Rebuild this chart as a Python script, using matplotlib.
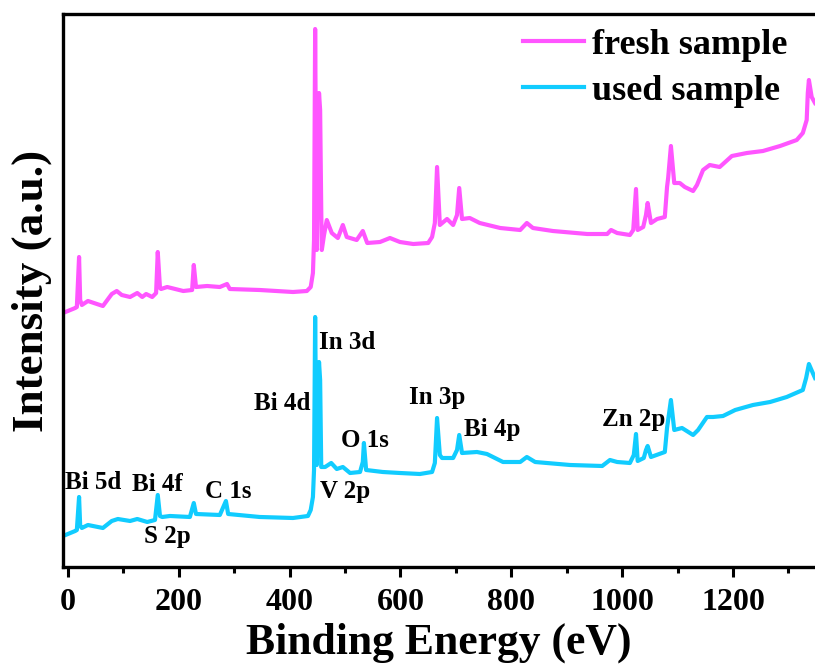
import matplotlib
matplotlib.use("Agg")
import matplotlib.pyplot as plt
from matplotlib.ticker import MultipleLocator

plt.rcParams['font.family'] = 'Liberation Serif'
plt.rcParams['font.weight'] = 'bold'

# XPS survey spectra (binding energy in eV, intensity in a.u.)
fresh_be = [-9, 13, 16, 20, 22, 25, 36, 63, 79, 88, 97, 112, 125, 134, 141, 152, 159, 162, 166, 168,
            179, 208, 224, 227, 231, 251, 274, 287, 292, 346, 406, 431, 438, 442, 444, 446, 448, 449,
            451, 453, 455, 457, 458, 462, 467, 476, 487, 496, 503, 521, 532, 540, 563, 581, 599, 623,
            650, 657, 662, 666, 671, 684, 695, 702, 706, 711, 725, 743, 780, 816, 828, 839, 875, 937,
            973, 980, 991, 1014, 1020, 1025, 1028, 1038, 1043, 1046, 1052, 1063, 1077, 1081, 1083,
            1088, 1094, 1104, 1113, 1128, 1135, 1146, 1158, 1176, 1198, 1225, 1254, 1285, 1315, 1326,
            1333, 1335, 1337, 1342, 1348]
fresh_int = [254, 259, 260, 310, 267, 262, 266, 261, 273, 276, 272, 270, 274, 270, 273, 270, 274, 315, 279, 278,
             280, 276, 277, 302, 280, 281, 280, 283, 278, 277, 275, 276, 280, 294, 327, 538, 367, 317,
             407, 474, 457, 357, 317, 332, 347, 334, 329, 342, 330, 327, 336, 324, 325, 329, 325, 323,
             324, 330, 344, 400, 342, 348, 342, 352, 379, 348, 349, 344, 339, 337, 344, 339, 336, 333,
             333, 337, 334, 332, 337, 378, 337, 340, 352, 364, 344, 348, 350, 380, 389,
             421, 384, 384, 380, 376, 382, 397, 402, 400, 411, 414, 416, 421, 427, 434,
             447, 474, 487, 470, 464]

used_be = [-9, 13, 16, 20, 22, 25, 36, 63, 79, 90, 112, 125, 143, 157, 162, 166, 170, 184, 220, 227,
           231, 274, 285, 289, 346, 406, 433, 438, 442, 444, 446, 448, 449, 451, 453, 455, 457, 464,
           475, 485, 496, 509, 527, 532, 534, 538, 568, 599, 635, 657, 662, 666, 671, 675, 695, 702,
           706, 711, 738, 756, 785, 816, 828, 843, 906, 964, 978, 991, 1014, 1021, 1025, 1028, 1039,
           1043, 1046, 1052, 1077, 1081, 1088, 1094, 1108, 1128, 1137, 1153, 1164, 1182, 1204, 1236,
           1267, 1297, 1326, 1332, 1337, 1344, 1348]
used_int = [31, 36, 37, 70, 41, 39, 42, 39, 46, 48, 46, 48, 45, 47, 72, 51, 50, 51, 50, 64,
            53, 52, 66, 53, 50, 49, 51, 57, 70, 97, 250, 127, 102, 167, 205, 187, 100, 100,
            104, 98, 100, 94, 95, 105, 124, 97, 95, 94, 93, 95, 104, 149, 112, 109, 109, 117,
            132, 114, 115, 113, 105, 105, 110, 105, 102, 101, 107, 105, 104, 112, 133, 106, 109,
            117, 121, 110, 115, 139, 167, 137, 139, 132, 137, 150, 150, 151, 157, 162,
            165, 170, 177, 189, 203, 194, 189]

peak_labels = ["In 3d", "Bi 4d", "O 1s", "V 2p", "In 3p", "Bi 4p", "Zn 2p",
               "Bi 5d", "Bi 4f", "C 1s", "S 2p"]

fig = plt.figure(figsize=(8.15, 6.64), dpi=100)
ax = fig.add_axes([0.0773, 0.1461, 0.9227, 0.8328])

ax.plot(fresh_be, fresh_int, color='#FF55FF', lw=3, label='fresh sample')
ax.plot(used_be, used_int, color='#11CCFF', lw=3, label='used sample')

# label positions (eV, a.u.) for the used-sample peaks
label_pos = [(503, 218), (386, 157), (536, 120), (500, 69), (666, 163), (765, 131),
             (1021, 141), (45, 78), (161, 76), (289, 69), (180, 24)]
for name, (lx, ly) in zip(peak_labels, label_pos):
    ax.text(lx, ly, name, ha='center', va='baseline', fontsize=18, fontweight='bold')

ax.set_xlim(-9, 1348)
ax.set_ylim(0, 553)
ax.set_yticks([])
ax.xaxis.set_major_locator(MultipleLocator(200))
ax.xaxis.set_minor_locator(MultipleLocator(100))
ax.tick_params(axis='x', which='major', direction='out', length=7, width=2.2, labelsize=23, pad=8)
ax.tick_params(axis='x', which='minor', direction='out', length=4, width=2.2)
for lab in ax.get_xticklabels():
    lab.set_fontweight('bold')

for side in ['left', 'bottom', 'top']:
    ax.spines[side].set_linewidth(2.4)
ax.spines['right'].set_visible(False)

ax.set_xlabel('Binding Energy (eV)', fontsize=31.5, fontweight='bold', labelpad=4)
ax.set_ylabel('Intensity (a.u.)', fontsize=32.5, fontweight='bold', labelpad=8)

ax.legend(loc='upper right', bbox_to_anchor=(1.006, 1.032), frameon=False,
          handlelength=1.7, handletextpad=0.2, labelspacing=0.35, prop={'weight': 'bold', 'size': 26})

fig.savefig('out.png', dpi=100)
